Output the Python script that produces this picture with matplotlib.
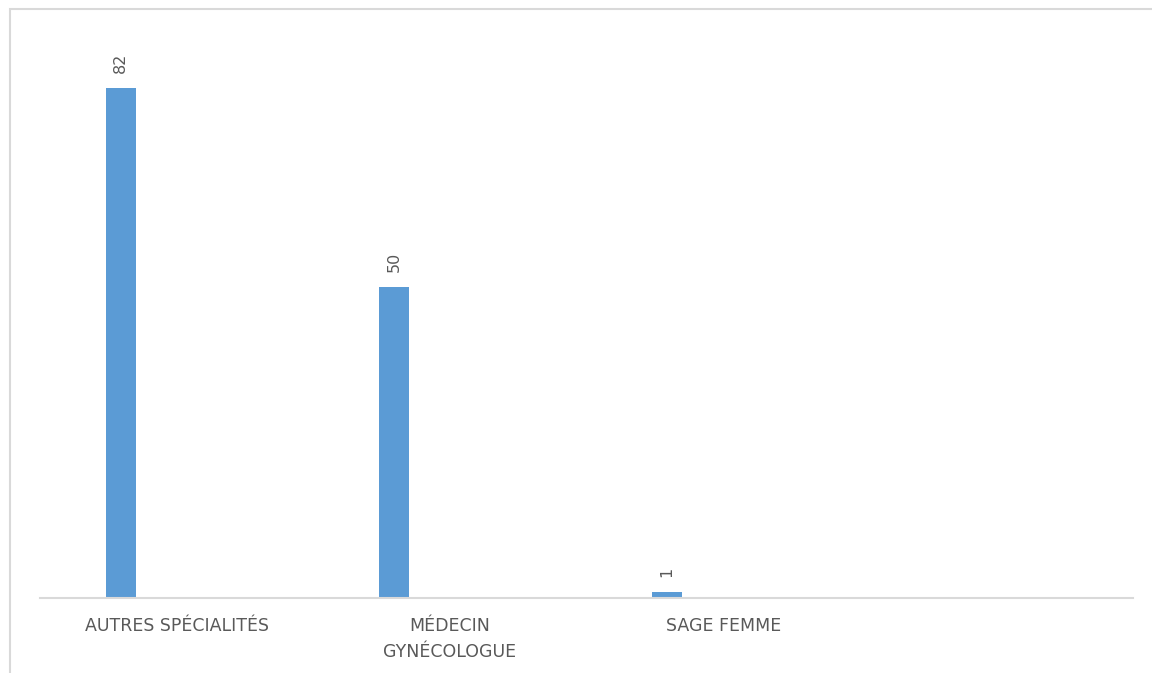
import matplotlib
matplotlib.use("Agg")
import matplotlib.pyplot as plt
from matplotlib.patches import Rectangle

# data
categories = ["AUTRES SPÉCIALITÉS", "MÉDECIN\nGYNÉCOLOGUE", "SAGE FEMME", ""]
values = [82, 50, 1, None]

bar_color = "#5b9bd5"
text_color = "#595959"
grid_color = "#d9d9d9"

fig = plt.figure(figsize=(11.52, 6.73), dpi=100)
ax = fig.add_axes([40 / 1152, 75 / 673, 1093 / 1152, 578 / 673])

# outer chart frame (partly cut off at right / bottom in the reference)
fig.patches.append(Rectangle((10 / 1152, -0.1), 1.2, 1.1 - 9.5 / 673,
                             transform=fig.transFigure, fill=False,
                             edgecolor=grid_color, linewidth=1.5))

xs = [i for i, v in enumerate(values) if v is not None]
ys = [v for v in values if v is not None]
offset = -0.205
bars = ax.bar([x + offset for x in xs], ys, width=0.11, color=bar_color)

for b, v in zip(bars, ys):
    ax.annotate(str(v), (b.get_x() + b.get_width() / 2, v),
                xytext=(0, 11), textcoords="offset points",
                rotation=90, ha="center", va="bottom",
                fontsize=11.5, color=text_color)

ax.set_xlim(-0.5, 3.5)
ax.set_ylim(0, 93)
ax.set_xticks(range(len(categories)))
ax.set_xticklabels(categories, fontsize=12.5, color=text_color, linespacing=1.55)
ax.tick_params(axis="x", length=0, pad=14)
ax.set_yticks([])
for s in ["top", "right", "left"]:
    ax.spines[s].set_visible(False)
ax.spines["bottom"].set_color(grid_color)
ax.spines["bottom"].set_linewidth(1.5)

fig.savefig("out.png", dpi=100)
